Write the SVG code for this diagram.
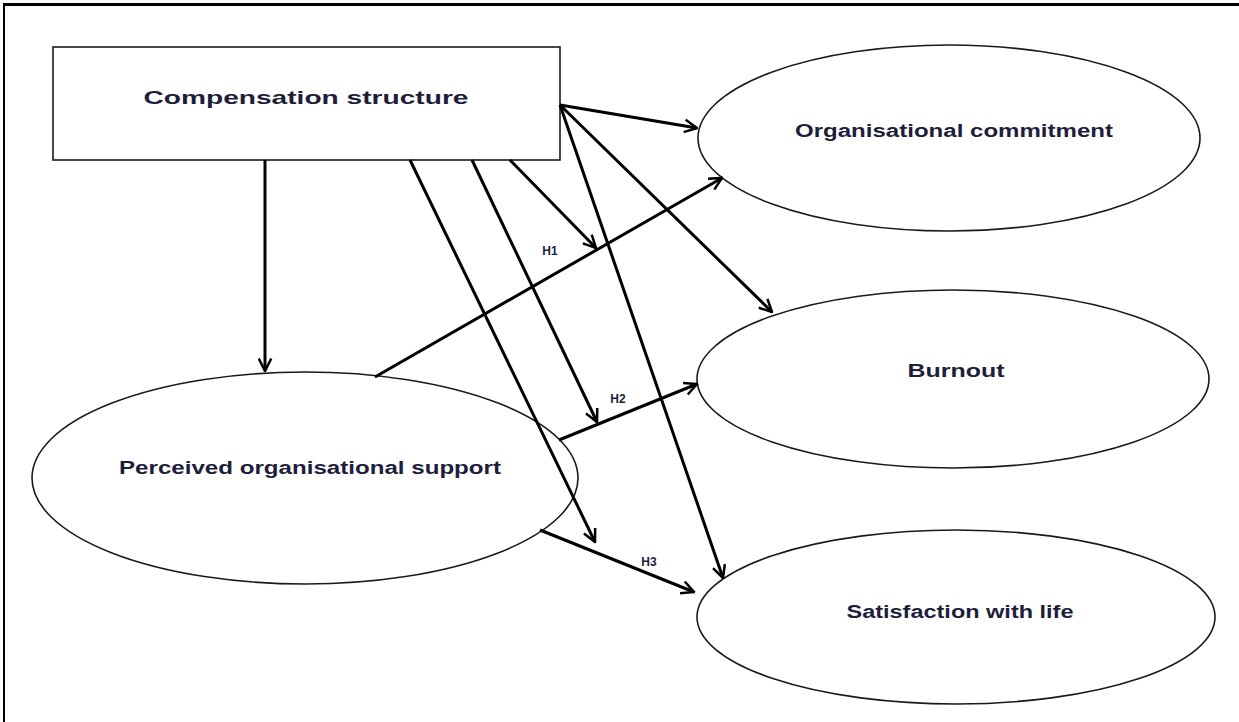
<svg xmlns="http://www.w3.org/2000/svg" width="1239" height="722" viewBox="0 0 1239 722">
<defs>
<style>
.frame{fill:none;stroke:#000;}
.node{fill:#fff;stroke:#1a1a1a;stroke-width:1.6;}
.lbl{font-family:"Liberation Sans",Arial,sans-serif;font-weight:bold;fill:#1e1e3c;text-anchor:middle;}
.h{font-family:"Liberation Sans",Arial,sans-serif;font-weight:bold;font-size:12px;fill:#1e1e3c;text-anchor:middle;}
.conn line{stroke:#000;stroke-width:3;marker-end:url(#arr);}
</style>
<marker id="arr" viewBox="0 0 12 12" refX="11" refY="6" markerWidth="5" markerHeight="5" orient="auto" markerUnits="strokeWidth">
<path d="M1,1 L11,6 L1,11" fill="none" stroke="#000" stroke-width="2"/>
</marker>
</defs>
<rect width="1239" height="722" fill="#fff"/>
<path class="frame" d="M4,722 V4" stroke-width="2"/>
<path class="frame" d="M3,4.5 H1239" stroke-width="3"/>

<g id="compensation-structure">
<rect class="node" x="53" y="47" width="507" height="113"/>
<text class="lbl" x="306" y="104" font-size="19" textLength="325" lengthAdjust="spacingAndGlyphs">Compensation structure</text>
</g>
<g id="organisational-commitment">
<ellipse class="node" cx="949" cy="138" rx="251" ry="93"/>
<text class="lbl" x="954" y="137" font-size="18" textLength="318" lengthAdjust="spacingAndGlyphs">Organisational commitment</text>
</g>
<g id="burnout">
<ellipse class="node" cx="953" cy="379" rx="256" ry="89"/>
<text class="lbl" x="956" y="377" font-size="18" textLength="97" lengthAdjust="spacingAndGlyphs">Burnout</text>
</g>
<g id="satisfaction-with-life">
<ellipse class="node" cx="956" cy="617" rx="259" ry="87"/>
<text class="lbl" x="960" y="618" font-size="18" textLength="227" lengthAdjust="spacingAndGlyphs">Satisfaction with life</text>
</g>
<g id="perceived-organisational-support">
<ellipse class="node" cx="305" cy="478" rx="273" ry="106"/>
<text class="lbl" x="310" y="474" font-size="18" textLength="382" lengthAdjust="spacingAndGlyphs">Perceived organisational support</text>
</g>

<g id="connectors" class="conn">
<line x1="265" y1="160" x2="265" y2="371"/>
<line x1="410" y1="160" x2="595" y2="542"/>
<line x1="472" y1="160" x2="597" y2="422"/>
<line x1="510" y1="160" x2="596" y2="248"/>
<line x1="560" y1="105" x2="697" y2="128"/>
<line x1="560" y1="105" x2="772" y2="312"/>
<line x1="560" y1="105" x2="723" y2="578"/>
<line x1="375" y1="377" x2="722" y2="178"/>
<line x1="559" y1="440" x2="697" y2="384"/>
<line x1="540" y1="530" x2="694" y2="592"/>
</g>
<g id="labels">
<text class="h" x="550" y="255">H1</text>
<text class="h" x="618" y="403">H2</text>
<text class="h" x="649" y="566">H3</text>
</g>
</svg>
